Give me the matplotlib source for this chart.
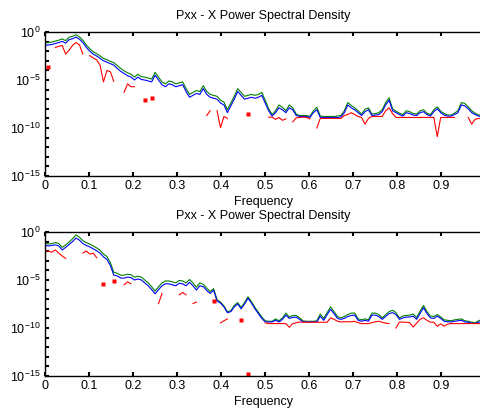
import numpy as np
import matplotlib
matplotlib.use("Agg")
import matplotlib.pyplot as plt
from matplotlib.ticker import FixedLocator, FuncFormatter, NullLocator

plt.rcParams['font.family'] = ['Liberation Sans', 'DejaVu Sans']
plt.rcParams['mathtext.fontset'] = 'custom'
plt.rcParams['mathtext.rm'] = 'Liberation Sans'
plt.rcParams['axes.unicode_minus'] = False

nan = np.nan
nfft = 128
freq = np.arange(nfft) / nfft

# log10 of the PSD (top panel)
top_green = [-1.15, -1.1, -1.05, -0.95, -0.85, -0.72, -0.9, -0.55, -0.45, -0.28,
             -0.5, -0.85, -1.35, -1.75, -2.05, -2.25, -2.5, -2.75, -2.9, -3.05,
             -3.2, -3.5, -3.8, -4.05, -4.25, -4.4, -4.7, -4.4, -4.65, -4.7,
             -4.8, -4.9, -4.2, -4.7, -5.2, -5.4, -5.1, -5.2, -5.4, -5.3,
             -5.2, -5.9, -6.5, -6.3, -6.1, -6.2, -5.6, -6.2, -6.5, -6.6,
             -6.7, -7.1, -7.3, -8.1, -7.4, -6.7, -5.9, -6.3, -6.7, -6.6,
             -6.5, -6.6, -6.5, -6.3, -7.1, -8.0, -8.6, -8.2, -7.6, -7.85,
             -8.2, -7.6, -7.9, -8.55, -8.7, -8.7, -8.7, -8.8, -8.2, -7.85,
             -8.75, -8.8, -8.8, -8.8, -8.8, -8.75, -8.7, -8.2, -7.35, -7.65,
             -7.9, -8.2, -8.55, -8.05, -7.9, -8.55, -8.5, -8.4, -8.1, -7.35,
             -6.85, -8.0, -8.25, -8.45, -8.6, -8.2, -8.3, -8.5, -8.55, -8.2,
             -8.1, -8.45, -8.6, -8.1, -7.8, -8.25, -8.5, -8.65, -8.65, -8.45,
             -8.2, -7.35, -7.45, -7.8, -8.2, -8.45, -8.65, -8.7]
top_blue = [-1.4, -1.35, -1.3, -1.2, -1.1, -0.98, -1.16, -0.8, -0.7, -0.53,
            -0.75, -1.1, -1.6, -2.0, -2.3, -2.5, -2.75, -3.0, -3.15, -3.3,
            -3.45, -3.8, -4.1, -4.33, -4.55, -4.7, -5.0, -4.7, -4.95, -5.0,
            -5.1, -5.2, -4.5, -5.0, -5.5, -5.7, -5.4, -5.5, -5.7, -5.6,
            -5.5, -6.2, -6.8, -6.6, -6.4, -6.5, -5.9, -6.5, -6.8, -6.9,
            -7.0, -7.4, -7.6, -8.4, -7.7, -7.0, -6.2, -6.6, -7.0, -6.9,
            -6.8, -6.9, -6.8, -6.6, -7.4, -8.2, -8.76, -8.4, -7.9, -8.1,
            -8.4, -7.9, -8.1, -8.7, -8.8, -8.8, -8.8, -8.9, -8.4, -8.1,
            -8.9, -8.9, -8.9, -8.9, -8.9, -8.9, -8.85, -8.4, -7.6, -7.9,
            -8.1, -8.4, -8.7, -8.3, -8.1, -8.7, -8.65, -8.6, -8.3, -7.6,
            -7.1, -8.2, -8.4, -8.6, -8.76, -8.4, -8.5, -8.65, -8.7, -8.4,
            -8.3, -8.6, -8.76, -8.3, -8.0, -8.4, -8.66, -8.76, -8.76, -8.6,
            -8.4, -7.6, -7.7, -8.0, -8.4, -8.6, -8.76, -8.8]
top_red = [nan, -3.6, nan, -1.6, -1.5, -1.4, -2.3, -1.9, -1.4, -1.1,
           -1.33, -2.3, nan, -2.46, -2.7, -2.9, -3.45, -5.2, -4.0, -4.15,
           -5.14, nan, nan, -6.27, -5.4, -5.7, -5.7, nan, nan, -7.1,
           nan, -6.9, nan, nan, nan, nan, nan, nan, nan, nan,
           nan, nan, nan, nan, nan, nan, nan, -8.7, -8.2, nan,
           -8.2, -9.96, -8.8, -9.0, nan, nan, nan, nan, nan, -8.5,
           nan, nan, nan, nan, nan, -8.87, -8.87, -9.1, -8.9, -9.2,
           -9.05, nan, -9.36, -8.95, -8.9, -8.87, -8.9, -9.05, nan, -10.0,
           -9.0, -9.0, -9.0, -9.0, -9.0, -9.0, -9.0, -8.7, -8.6, -8.4,
           -8.6, -8.8, -8.9, -9.6, -9.0, -8.8, -8.8, -8.8, -8.8, -8.2,
           -7.9, -8.5, -8.9, -8.9, -8.9, -8.9, -8.9, -8.9, -8.9, -8.9,
           -8.9, -8.9, -8.9, -8.9, -10.9, -8.9, -8.9, -8.9, -8.9, -8.9,
           nan, nan, nan, -8.9, -9.6, -9.1, -9.0, -9.0]

# bottom panel
bot_green = [-1.2, -1.25, -1.2, -1.1, -1.2, -1.6, -1.35, -1.05, -0.7, -0.3,
             -0.55, -0.9, -1.1, -1.25, -1.45, -1.65, -1.9, -2.3, -2.55, -3.2,
             -4.2, -4.3, -4.5, -4.5, -4.4, -4.45, -4.7, -4.6, -4.7, -5.0,
             -5.3, -5.7, -6.15, -5.7, -5.3, -5.1, -5.1, -5.2, -5.3, -5.05,
             -5.1, -5.3, -4.95, -5.3, -5.75, -5.3, -5.45, -5.85, -6.2, -5.9,
             -7.05, -7.3, -7.7, -8.3, -8.2, -7.65, -7.35, -7.85, -7.35, -6.75,
             -7.25, -7.85, -8.35, -8.85, -9.25, -9.3, -9.3, -9.05, -9.25, -8.95,
             -8.45, -8.85, -8.7, -8.7, -8.95, -9.25, -9.3, -9.3, -9.3, -9.25,
             -8.55, -9.0, -8.4, -7.8, -8.3, -8.8, -8.95, -8.8, -8.6, -8.45,
             -8.45, -9.05, -9.15, -9.05, -9.15, -8.45, -8.45, -8.6, -8.95, -8.6,
             -8.3, -8.15, -8.4, -8.95, -8.75, -8.7, -8.65, -8.55, -8.9, -8.25,
             -7.65, -8.3, -8.75, -8.8, -8.6, -8.85, -9.15, -9.2, -9.25, -9.15,
             -9.1, -9.05, -9.25, -9.3, -9.4, -9.45, -9.25, -9.1]
bot_blue = [-1.4, -1.45, -1.4, -1.34, -1.45, -1.87, -1.6, -1.3, -1.0, -0.63,
            -0.85, -1.2, -1.4, -1.55, -1.75, -1.95, -2.2, -2.6, -2.85, -3.5,
            -4.5, -4.57, -4.8, -4.8, -4.7, -4.75, -5.0, -4.9, -5.0, -5.3,
            -5.6, -6.0, -6.44, -6.0, -5.6, -5.4, -5.4, -5.5, -5.6, -5.35,
            -5.4, -5.6, -5.24, -5.6, -6.05, -5.6, -5.7, -6.1, -6.4, -6.05,
            -7.2, -7.4, -7.8, -8.4, -8.3, -7.8, -7.5, -8.0, -7.5, -6.9,
            -7.4, -8.0, -8.5, -9.0, -9.37, -9.37, -9.37, -9.2, -9.37, -9.1,
            -8.66, -9.0, -8.9, -8.87, -9.1, -9.37, -9.37, -9.37, -9.37, -9.37,
            -8.77, -9.2, -8.6, -8.06, -8.5, -9.0, -9.1, -9.0, -8.8, -8.7,
            -8.66, -9.2, -9.3, -9.2, -9.3, -8.66, -8.66, -8.8, -9.1, -8.8,
            -8.5, -8.4, -8.6, -9.1, -8.95, -8.87, -8.85, -8.77, -9.1, -8.5,
            -7.88, -8.5, -8.94, -9.0, -8.77, -9.0, -9.3, -9.35, -9.37, -9.3,
            -9.25, -9.2, -9.37, -9.4, -9.5, -9.54, -9.4, -9.3]
bot_red = [-1.97, -2.0, -2.1, -1.87, -2.2, -2.5, -2.75, nan, nan, nan,
           nan, -2.2, -1.97, -2.3, -2.2, -2.67, nan, -5.4, nan, nan,
           -5.14, nan, nan, -5.5, -5.2, -5.4, nan, nan, nan, nan,
           nan, nan, nan, -7.46, -6.4, nan, nan, nan, nan, -6.55,
           -6.3, -6.55, nan, -7.45, -7.3, nan, nan, nan, nan, -7.18,
           nan, -9.47, -9.25, -9.05, nan, nan, nan, -9.2, nan, -14.75,
           nan, nan, nan, nan, -9.47, -9.54, -9.54, -9.54, -9.54, -9.54,
           -9.54, -9.93, -9.54, -9.45, -9.37, -9.4, -9.4, -9.4, -9.4, -9.4,
           -9.4, -9.4, -9.4, -8.94, -9.1, -9.3, -9.37, -9.35, -9.35, -9.35,
           -9.3, -9.45, -9.54, -9.54, -9.54, -9.45, -9.35, -9.3, -9.4, -9.5,
           -9.54, nan, -10.0, -9.37, -9.4, -9.4, -9.45, -9.9, -9.5, -9.1,
           -8.94, -9.2, -9.4, -9.4, -9.82, -9.57, -9.82, -9.6, -9.54, -9.54,
           -9.54, -9.54, -9.54, -9.54, -9.54, -9.54, -9.54, -9.54]

xticks = [0, 0.1, 0.2, 0.3, 0.4, 0.5, 0.6, 0.7, 0.8, 0.9]
xticklabels = ['0', '0.1', '0.2', '0.3', '0.4', '0.5', '0.6', '0.7', '0.8', '0.9']
title = 'Pxx - X Power Spectral Density'


def ylab(v, pos):
    e = int(round(np.log10(v)))
    if e % 5:
        return ''
    return r'$\mathdefault{10^{%d}}$' % e


def draw(ax, g, b, r):
    ax.plot(freq, 10.0 ** np.array(g), color='#008000', lw=0.8)
    ax.plot(freq, 10.0 ** np.array(b), color='#0000ff', lw=0.8)
    red = np.array(r)
    ax.plot(freq, 10.0 ** red, color='#ff0000', lw=0.8)
    # points with no neighbour get drawn as small squares
    ok = ~np.isnan(red)
    lone = ok & ~np.r_[False, ok[:-1]] & ~np.r_[ok[1:], False]
    ax.plot(freq[lone], 10.0 ** red[lone], 's', color='#ff0000', ms=2.5, mec='none')

    ax.set_yscale('log')
    ax.set_xlim(0, freq[-1])
    ax.set_ylim(1e-15, 1)
    ax.yaxis.set_major_locator(FixedLocator(10.0 ** np.arange(-15, 1)))
    ax.yaxis.set_minor_locator(NullLocator())
    ax.yaxis.set_major_formatter(FuncFormatter(ylab))
    ax.set_xticks(xticks)
    ax.set_xticklabels(xticklabels)
    ax.tick_params(direction='in', length=3, width=1.5, top=True, right=False,
                   labelsize=9, pad=3, colors='black')
    for s in ax.spines.values():
        s.set_linewidth(1.0)
    ax.set_title(title, fontsize=9, pad=9)
    ax.set_xlabel('Frequency', fontsize=9, labelpad=3)


fig = plt.figure(figsize=(4.8, 4.18), dpi=100)
ax1 = fig.add_axes([45 / 480, 1 - 176 / 418, 437 / 480, 144 / 418])
ax2 = fig.add_axes([45 / 480, 1 - 376 / 418, 437 / 480, 144 / 418])
draw(ax1, top_green, top_blue, top_red)
draw(ax2, bot_green, bot_blue, bot_red)

fig.savefig('out.png', dpi=100)
